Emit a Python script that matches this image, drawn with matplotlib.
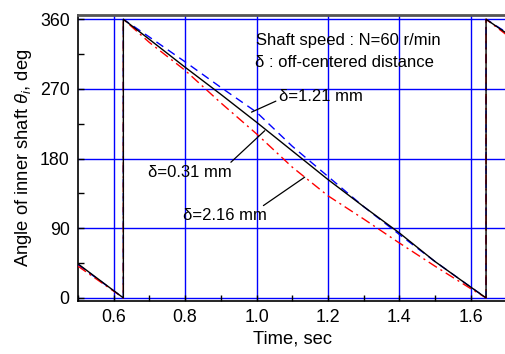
import matplotlib
matplotlib.use("Agg")
import matplotlib.pyplot as plt
from matplotlib.ticker import MultipleLocator

plt.rcParams['font.family'] = ['Liberation Sans', 'DejaVu Sans']
plt.rcParams['mathtext.fontset'] = 'custom'
plt.rcParams['mathtext.it'] = 'Liberation Sans:italic'
plt.rcParams['mathtext.rm'] = 'Liberation Sans'

# Time samples (s); repeated value marks the 360 -> 0 wrap
time_s = [0.50, 0.627, 0.627, 0.70, 0.80, 0.90, 1.00, 1.10, 1.20, 1.30,
          1.40, 1.50, 1.60, 1.643, 1.643, 1.70]
# Angle of inner shaft (deg) for each off-centered distance
angle_031 = [44, 0, 360, 334, 298, 263, 227, 190, 153, 118, 84, 47, 14, 0, 360, 342]
angle_121 = [43, 0, 360, 337, 305, 272, 240, 196, 157, 118, 82, 47, 14, 0, 360, 343]
angle_216 = [41, 0, 360, 330, 294, 252, 212, 169, 132, 102, 71, 41, 12, 0, 360, 340]

x_major = [0.6, 0.8, 1.0, 1.2, 1.4, 1.6]
y_major = [0, 90, 180, 270, 360]

fig = plt.figure(figsize=(5.05, 3.54), dpi=100)
ax = fig.add_axes([78 / 505, 53 / 354, (506.4 - 78) / 505, 286 / 354])

ax.set_xlim(0.5, 1.7)
ax.set_ylim(-4, 365.5)

# grid
for xv in x_major:
    ax.axvline(xv, color='#0000ff', lw=1.0, zorder=1)
for yv in y_major:
    ax.axhline(yv, color='#0000ff', lw=1.0, zorder=1)

ax.plot(time_s, angle_031, color='black', lw=1.0, ls='-', zorder=4)
ax.plot(time_s, angle_121, color='#0000ff', lw=1.0, ls=(0, (6, 4)), zorder=3)
ax.plot(time_s, angle_216, color='#ff0000', lw=1.0, ls=(0, (7, 3, 1.5, 3)), zorder=3)

ax.set_xticks(x_major)
ax.set_xticklabels([f"{v:.1f}" for v in x_major])
ax.set_yticks(y_major)
ax.set_yticklabels([str(v) for v in y_major])
ax.xaxis.set_minor_locator(MultipleLocator(0.1))
ax.yaxis.set_minor_locator(MultipleLocator(45))
ax.tick_params(which='both', direction='in', length=4, width=1.0, labelsize=12.8,
               pad=6, top=False, right=False)

for s in ['left', 'bottom']:
    ax.spines[s].set_color('black')
    ax.spines[s].set_linewidth(1.2)
ax.spines['top'].set_color('#555555')
ax.spines['top'].set_linewidth(2)
ax.spines['right'].set_visible(False)

ax.set_xlabel('Time, sec', fontsize=13.2, labelpad=3)
ax.set_ylabel(r'Angle of inner shaft $\theta_i$, deg', fontsize=13.2, labelpad=4)

ax.text(0.998, 333, 'Shaft speed : N=60 r/min', fontsize=12, va='center', ha='left', zorder=6)
ax.text(0.995, 303.6, 'δ : off-centered distance', fontsize=12, va='center', ha='left', zorder=6)

arrow = dict(arrowstyle='-', color='black', lw=0.9, shrinkA=0, shrinkB=0)
ax.annotate('δ=1.21 mm', xy=(0.986, 240), xytext=(1.062, 259.7), fontsize=12,
            va='center', ha='left', zorder=6,
            arrowprops=dict(arrow, relpos=(0, 0.3)))
ax.annotate('δ=0.31 mm', xy=(1.023, 216), xytext=(0.695, 162), fontsize=12,
            va='center', ha='left', zorder=6,
            arrowprops=dict(arrow, relpos=(0.93, 0.85)))
ax.annotate('δ=2.16 mm', xy=(1.135, 156), xytext=(0.794, 106), fontsize=12,
            va='center', ha='left', zorder=6,
            arrowprops=dict(arrow, relpos=(0.95, 1.15)))

fig.savefig('out.png', dpi=100)
